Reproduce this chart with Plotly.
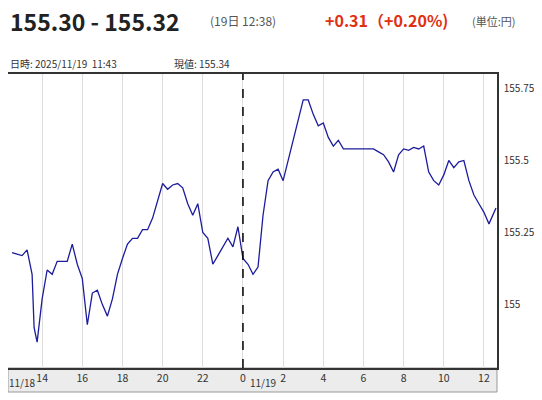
import plotly.graph_objects as go

# hours since 2025/11/18 00:00
hours = [12.5, 13.0, 13.25, 13.5, 13.6, 13.75, 14.0, 14.25, 14.5, 14.75, 15.0, 15.25, 15.5, 15.75,
         16.0, 16.25, 16.5, 16.75, 17.0, 17.25, 17.5, 17.75, 18.0, 18.25, 18.5, 18.75, 19.0, 19.25,
         19.5, 19.75, 20.0, 20.25, 20.5, 20.75, 21.0, 21.25, 21.5, 21.75, 22.0, 22.25, 22.5, 22.75,
         23.0, 23.25, 23.5, 23.75, 24.0, 24.25, 24.5, 24.75, 25.0, 25.25, 25.5, 25.75, 26.0, 26.25,
         26.5, 26.75, 27.0, 27.25, 27.5, 27.75, 28.0, 28.25, 28.5, 28.75, 29.0, 29.5, 30.0, 30.5,
         30.75, 31.0, 31.25, 31.5, 31.75, 32.0, 32.25, 32.5, 32.75, 33.0, 33.25, 33.5, 33.75, 34.0,
         34.25, 34.5, 34.75, 35.0, 35.25, 35.5, 35.75, 36.0, 36.25, 36.5, 36.6]
prices = [155.18, 155.17, 155.19, 155.105, 154.92, 154.87, 155.02, 155.12, 155.105, 155.15, 155.15,
          155.15, 155.21, 155.14, 155.09, 154.93, 155.04, 155.05, 155.0, 154.96, 155.02, 155.105,
          155.16, 155.21, 155.23, 155.23, 155.26, 155.26, 155.30, 155.36, 155.42, 155.40, 155.415,
          155.42, 155.405, 155.35, 155.31, 155.35, 155.25, 155.23, 155.14, 155.17, 155.20, 155.23,
          155.20, 155.27, 155.16, 155.14, 155.105, 155.13, 155.31, 155.43, 155.46, 155.47, 155.43,
          155.50, 155.58, 155.65, 155.71, 155.71, 155.66, 155.62, 155.63, 155.58, 155.55, 155.57,
          155.54, 155.54, 155.54, 155.54, 155.53, 155.52, 155.495, 155.46, 155.52, 155.54, 155.535,
          155.545, 155.54, 155.55, 155.46, 155.43, 155.415, 155.45, 155.50, 155.475, 155.495, 155.50,
          155.43, 155.38, 155.35, 155.32, 155.28, 155.32, 155.335]

tick_hours = [14, 16, 18, 20, 22, 24, 26, 28, 30, 32, 34, 36]
tick_labels = ["14", "16", "18", "20", "22", "0", "2", "4", "6", "8", "10", "12"]
y_ticks = [155, 155.25, 155.5, 155.75]
y_labels = ["155", "155.25", "155.5", "155.75"]

FONT = "Noto Sans CJK JP"
# the page body has an 8px margin, so work in figure pixels = screen pixels - 8
OFF = 8
W, H = 542 - OFF, 400 - OFF
PLOT_LEFT, PLOT_RIGHT = 8 - OFF, 497 - OFF
PLOT_TOP, PLOT_BOTTOM = 74 - OFF, 368 - OFF


def py(px):
    # screen pixel row -> paper y
    return (PLOT_BOTTOM - (px - OFF)) / (PLOT_BOTTOM - PLOT_TOP)


def pxx(px):
    # screen pixel column -> paper x
    return (px - OFF - PLOT_LEFT) / (PLOT_RIGHT - PLOT_LEFT)


fig = go.Figure(go.Scatter(x=hours, y=prices, mode="lines",
                           line=dict(color="#1c1c9c", width=1.3), hoverinfo="skip"))

fig.update_layout(
    width=W, height=H,
    margin=dict(l=PLOT_LEFT, r=W - PLOT_RIGHT, t=PLOT_TOP, b=H - PLOT_BOTTOM, autoexpand=False),
    paper_bgcolor="white", plot_bgcolor="white",
    showlegend=False,
    font=dict(family=FONT, size=11, color="#333"),
    xaxis=dict(range=[12.3, 36.65], tickvals=tick_hours, ticktext=tick_labels,
               showgrid=True, gridcolor="#dddddd", gridwidth=1, zeroline=False,
               showline=True, linecolor="#333", linewidth=1.5, mirror=True,
               ticks="", ticklabelstandoff=0, tickfont=dict(size=10.5, color="#333")),
    yaxis=dict(range=[154.78, 155.80], side="right", tickvals=y_ticks, ticktext=y_labels,
               showgrid=False, zeroline=False, showline=True, linecolor="#333",
               linewidth=1.5, mirror=True, ticks="", ticklabelstandoff=3,
               tickfont=dict(size=10, color="#333")),
)

# gray band behind x labels
fig.add_shape(type="rect", xref="paper", yref="paper", x0=0, x1=1, y0=py(392), y1=0,
              fillcolor="#ececec", line=dict(color="#999", width=1), layer="below")
# midnight divider
fig.add_shape(type="line", xref="x", yref="paper", x0=24, x1=24, y0=0, y1=1,
              line=dict(color="black", width=1.5, dash="dash"))

annotations = [
    dict(x=8, y=21, text="<b>155.30 - 155.32</b>", size=23, color="#222"),
    dict(x=208, y=21, text="(19日 12:38)", size=12, color="#555"),
    dict(x=323, y=20, text="<b>+0.31（+0.20%)</b>", size=16, color="#e03010"),
    dict(x=470, y=21, text="(単位:円)", size=11, color="#555"),
    dict(x=8, y=63, text="日時: 2025/11/19  11:43", size=10, color="#333"),
    dict(x=172, y=63, text="現値: 155.34", size=10, color="#333"),
]
for a in annotations:
    fig.add_annotation(x=pxx(a["x"]), y=py(a["y"]), xref="paper", yref="paper",
                       xanchor="left", yanchor="middle", showarrow=False,
                       text=a["text"], font=dict(size=a["size"], color=a["color"], family=FONT))

for xh, lab in [(13.0, "11/18"), (25.0, "11/19")]:
    fig.add_annotation(x=xh, y=py(392), xref="x", yref="paper", yanchor="bottom",
                       showarrow=False, text=lab,
                       font=dict(size=10, color="#333", family=FONT))

fig.write_html("out.html")
